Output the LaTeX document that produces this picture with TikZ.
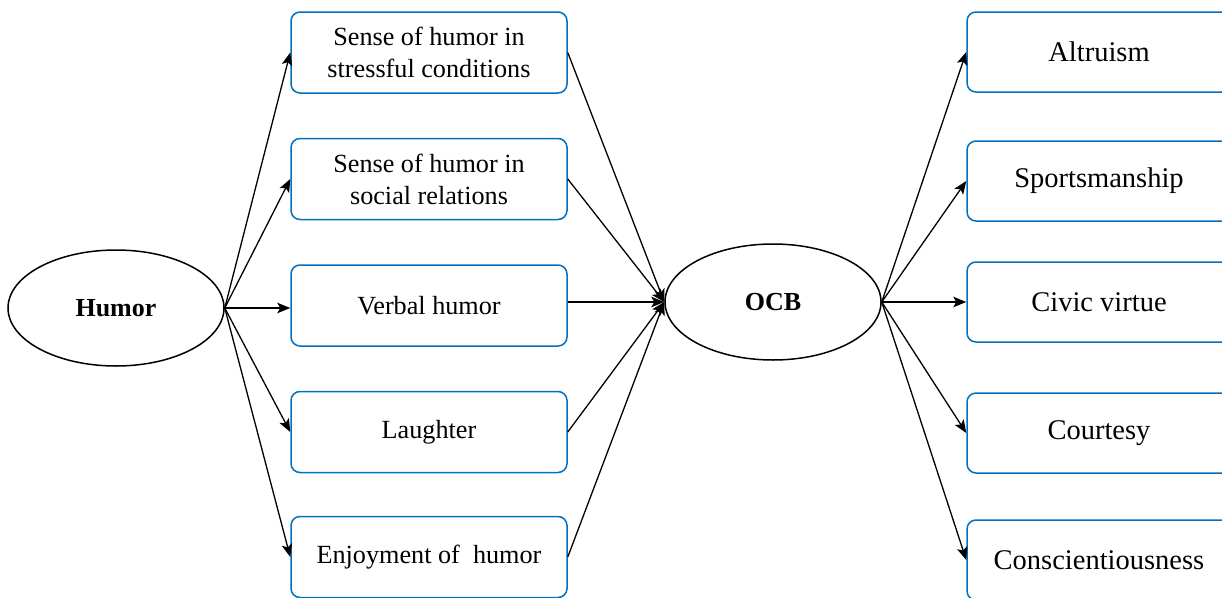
\documentclass[tikz,border=0pt]{standalone}
\usepackage{fontspec}
\setmainfont{Liberation Serif}
\usetikzlibrary{shapes.geometric,arrows.meta}
\definecolor{boxblue}{RGB}{0,112,192}
\begin{document}
\begin{tikzpicture}[x=1pt,y=-1pt,
  lbox/.style={draw=boxblue,line width=1.5pt,rounded corners=9pt,minimum width=276pt,minimum height=81pt,inner sep=0pt,align=center,font=\fontsize{26.2}{32}\selectfont},
  rbox/.style={draw=boxblue,line width=1.5pt,rounded corners=9pt,minimum width=264pt,minimum height=80pt,inner sep=0pt,align=center,font=\fontsize{28.5}{34}\selectfont},
  oval/.style={draw,ellipse,line width=1.5pt,minimum width=216pt,minimum height=116pt,inner sep=0pt,font=\fontsize{26}{32}\selectfont\bfseries},
  conn/.style={line width=1.3pt,-{Stealth[length=13pt,width=10.5pt,inset=3pt]}}]
\useasboundingbox (0,0) rectangle (1222,597);
\clip (0,0) rectangle (1222,597);
\node[oval] (humor) at (116,308) {Humor};
\node[oval] (ocb) at (773,302) {OCB};
\node[lbox] (l1) at (429,52.5) {Sense of humor in\\stressful conditions};
\node[lbox] (l2) at (429,179) {Sense of humor in\\social relations};
\node[lbox] (l3) at (429,305.5) {Verbal humor};
\node[lbox] (l4) at (429,432) {Laughter};
\node[lbox] (l5) at (429,557) {Enjoyment of\ \ humor};
\node[rbox] (r1) at (1099,52) {Altruism};
\node[rbox] (r2) at (1099,181) {Sportsmanship};
\node[rbox] (r3) at (1099,302) {Civic virtue};
\node[rbox] (r4) at (1099,433) {Courtesy};
\node[rbox] (r5) at (1099,560) {Conscientiousness};
\foreach \n in {l1,l2,l4,l5}{
  \draw[conn] (humor.east) -- (\n.west);
  \draw[conn] (\n.east) -- (ocb.west);
}
\draw[conn] (humor.east) -- (humor.east -| l3.west);
\draw[conn] (l3.east |- ocb.west) -- (ocb.west);
\foreach \n in {r1,r2,r3,r4,r5}{
  \draw[conn] (ocb.east) -- (\n.west);
}
\end{tikzpicture}
\end{document}
